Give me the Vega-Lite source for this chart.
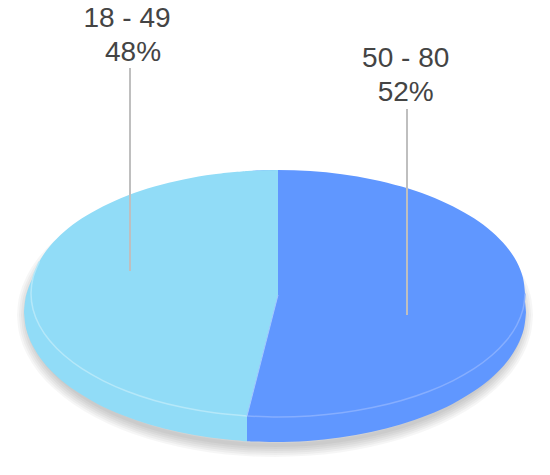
{"$schema":"https://vega.github.io/schema/vega-lite/v6.json","width":550,"height":475,"padding":0,"autosize":{"type":"none"},"background":"white","view":{"stroke":null},
"datasets":{
"shadow":[{"x":29,"y":315,"y2":315},{"x":31.1,"y":298,"y2":332},{"x":37.4,"y":281.4,"y2":348.6},{"x":47.7,"y":265.2,"y2":364.8},{"x":62,"y":250,"y2":380},{"x":79.8,"y":235.9,"y2":394.1},{"x":101.1,"y":223.1,"y2":406.9},{"x":125.2,"y":211.9,"y2":418.1},{"x":152,"y":202.4,"y2":427.6},{"x":180.9,"y":194.9,"y2":435.1},{"x":211.3,"y":189.4,"y2":440.6},{"x":242.9,"y":186.1,"y2":443.9},{"x":275,"y":185,"y2":445},{"x":307.1,"y":186.1,"y2":443.9},{"x":338.7,"y":189.4,"y2":440.6},{"x":369.1,"y":194.9,"y2":435.1},{"x":398,"y":202.4,"y2":427.6},{"x":424.8,"y":211.9,"y2":418.1},{"x":448.9,"y":223.1,"y2":406.9},{"x":470.2,"y":235.9,"y2":394.1},{"x":488,"y":250,"y2":380},{"x":502.3,"y":265.2,"y2":364.8},{"x":512.6,"y":281.4,"y2":348.6},{"x":518.9,"y":298,"y2":332},{"x":521,"y":315,"y2":315}],
"sideLight":[{"x":24,"y":312,"y2":312},{"x":26.2,"y":295,"y2":329},{"x":32.6,"y":278.4,"y2":345.6},{"x":43.1,"y":262.2,"y2":361.8},{"x":57.6,"y":247,"y2":377},{"x":75.9,"y":232.9,"y2":391.1},{"x":97.5,"y":220.1,"y2":403.9},{"x":122.2,"y":208.9,"y2":415.1},{"x":149.5,"y":199.4,"y2":424.6},{"x":178.9,"y":191.9,"y2":432.1},{"x":210,"y":186.4,"y2":437.6},{"x":242.2,"y":183.1,"y2":440.9},{"x":247,"y":183,"y2":441.2}],
"sideBlue":[{"x":247,"y":183,"y2":441.2},{"x":275,"y":182,"y2":442},{"x":307.8,"y":183.1,"y2":440.9},{"x":340,"y":186.4,"y2":437.6},{"x":371.1,"y":191.9,"y2":432.1},{"x":400.5,"y":199.4,"y2":424.6},{"x":427.8,"y":208.9,"y2":415.1},{"x":452.5,"y":220.1,"y2":403.9},{"x":474.1,"y":232.9,"y2":391.1},{"x":492.4,"y":247,"y2":377},{"x":506.9,"y":262.2,"y2":361.8},{"x":517.4,"y":278.4,"y2":345.6},{"x":523.8,"y":295,"y2":329},{"x":526,"y":312,"y2":312}],
"topBlue":[{"x":245.8,"y":171.1,"y2":415.9},{"x":278,"y":170,"y2":417},{"x":310.2,"y":171.1,"y2":415.9},{"x":341.9,"y":174.2,"y2":412.8},{"x":372.5,"y":179.4,"y2":407.6},{"x":401.5,"y":186.5,"y2":400.5},{"x":428.4,"y":195.5,"y2":391.5},{"x":452.7,"y":206.2,"y2":380.8},{"x":474,"y":218.3,"y2":368.7},{"x":491.9,"y":231.7,"y2":355.3},{"x":506.2,"y":246.2,"y2":340.8},{"x":516.6,"y":261.5,"y2":325.5},{"x":522.9,"y":277.4,"y2":309.6},{"x":525,"y":293.5,"y2":293.5}],
"topLight":[{"x":31,"y":293.5,"y2":293.5},{"x":33.1,"y":277.4,"y2":309.6},{"x":39.4,"y":261.5,"y2":325.5},{"x":49.8,"y":246.2,"y2":340.8},{"x":64.1,"y":231.7,"y2":355.3},{"x":82,"y":218.3,"y2":368.7},{"x":103.3,"y":206.2,"y2":380.8},{"x":127.6,"y":195.5,"y2":391.5},{"x":154.5,"y":186.5,"y2":400.5},{"x":183.5,"y":179.4,"y2":407.6},{"x":214.1,"y":174.2,"y2":412.8},{"x":247,"y":171,"y2":416}],
"wedgeLight":[{"x":247,"y":171,"y2":416},{"x":262,"y":170.2,"y2":357},{"x":278,"y":170,"y2":295}],
"ringLight":[{"x":39.4,"y":261.5},{"x":33.1,"y":277.4},{"x":31,"y":293.5},{"x":33.1,"y":309.6},{"x":39.4,"y":325.5},{"x":49.8,"y":340.8},{"x":64.1,"y":355.3},{"x":82,"y":368.7},{"x":103.3,"y":380.8},{"x":127.6,"y":391.5},{"x":154.5,"y":400.5},{"x":183.5,"y":407.6},{"x":214.1,"y":412.8},{"x":247,"y":416}],
"ringBlue":[{"x":247,"y":416},{"x":278,"y":417},{"x":310.2,"y":415.9},{"x":341.9,"y":412.8},{"x":372.5,"y":407.6},{"x":401.5,"y":400.5},{"x":428.4,"y":391.5},{"x":452.7,"y":380.8},{"x":474,"y":368.7},{"x":491.9,"y":355.3},{"x":506.2,"y":340.8},{"x":516.6,"y":325.5},{"x":522.9,"y":309.6},{"x":525,"y":293.5}],
"split":[{"x":247,"y":416},{"x":278,"y":295}],
"leaders":[{"x":130,"y":68,"y2":271},{"x":407,"y":109,"y2":315}],
"labels":[{"x":127,"y":27,"text":"18 - 49"},{"x":133,"y":61,"text":"48%"},{"x":405.7,"y":67,"text":"50 - 80"},{"x":405.7,"y":101,"text":"52%"}]
},
"encoding":{"x":{"field":"x","type":"quantitative","scale":{"domain":[0,550],"nice":false,"zero":false},"axis":null},"y":{"field":"y","type":"quantitative","scale":{"domain":[475,0],"nice":false,"zero":false},"axis":null}},
"layer":[
{"data":{"name":"shadow"},"mark":{"type":"area","interpolate":"cardinal","fillOpacity":0,"stroke":"#000000","strokeOpacity":0.035,"strokeWidth":24},"encoding":{"y2":{"field":"y2"}}},
{"data":{"name":"shadow"},"mark":{"type":"area","interpolate":"cardinal","fillOpacity":0,"stroke":"#000000","strokeOpacity":0.035,"strokeWidth":20},"encoding":{"y2":{"field":"y2"}}},
{"data":{"name":"shadow"},"mark":{"type":"area","interpolate":"cardinal","fillOpacity":0,"stroke":"#000000","strokeOpacity":0.035,"strokeWidth":16},"encoding":{"y2":{"field":"y2"}}},
{"data":{"name":"shadow"},"mark":{"type":"area","interpolate":"cardinal","fillOpacity":0,"stroke":"#000000","strokeOpacity":0.035,"strokeWidth":12},"encoding":{"y2":{"field":"y2"}}},
{"data":{"name":"shadow"},"mark":{"type":"area","interpolate":"cardinal","fillOpacity":0,"stroke":"#000000","strokeOpacity":0.035,"strokeWidth":8},"encoding":{"y2":{"field":"y2"}}},
{"data":{"name":"shadow"},"mark":{"type":"area","interpolate":"cardinal","fillOpacity":0,"stroke":"#000000","strokeOpacity":0.035,"strokeWidth":4},"encoding":{"y2":{"field":"y2"}}},
{"data":{"name":"sideLight"},"mark":{"type":"area","interpolate":"cardinal","fill":"#91dcf7"},"encoding":{"y2":{"field":"y2"}}},
{"data":{"name":"sideBlue"},"mark":{"type":"area","interpolate":"cardinal","fill":"#6097ff"},"encoding":{"y2":{"field":"y2"}}},
{"data":{"name":"topBlue"},"mark":{"type":"area","interpolate":"cardinal","fill":"#6097ff"},"encoding":{"y2":{"field":"y2"}}},
{"data":{"name":"topLight"},"mark":{"type":"area","interpolate":"cardinal","fill":"#91dcf7"},"encoding":{"y2":{"field":"y2"}}},
{"data":{"name":"wedgeLight"},"mark":{"type":"area","fill":"#91dcf7"},"encoding":{"y2":{"field":"y2"}}},
{"data":{"name":"ringLight"},"mark":{"type":"line","interpolate":"cardinal","stroke":"#b5e8f9","strokeWidth":1.5,"orient":"vertical"},"encoding":{"order":{"field":"y2"}}},
{"data":{"name":"ringBlue"},"mark":{"type":"line","interpolate":"cardinal","stroke":"#86aeff","strokeWidth":1.5}},
{"data":{"name":"split"},"mark":{"type":"line","stroke":"#a5c8ff","strokeWidth":1}},
{"data":{"name":"leaders"},"mark":{"type":"rule","stroke":"#bfbfbf","strokeWidth":2},"encoding":{"y2":{"field":"y2"}}},
{"data":{"name":"labels"},"mark":{"type":"text","font":"Liberation Sans","fontSize":28,"fill":"#444444","align":"center","baseline":"alphabetic"},"encoding":{"text":{"field":"text"}}}
]}
